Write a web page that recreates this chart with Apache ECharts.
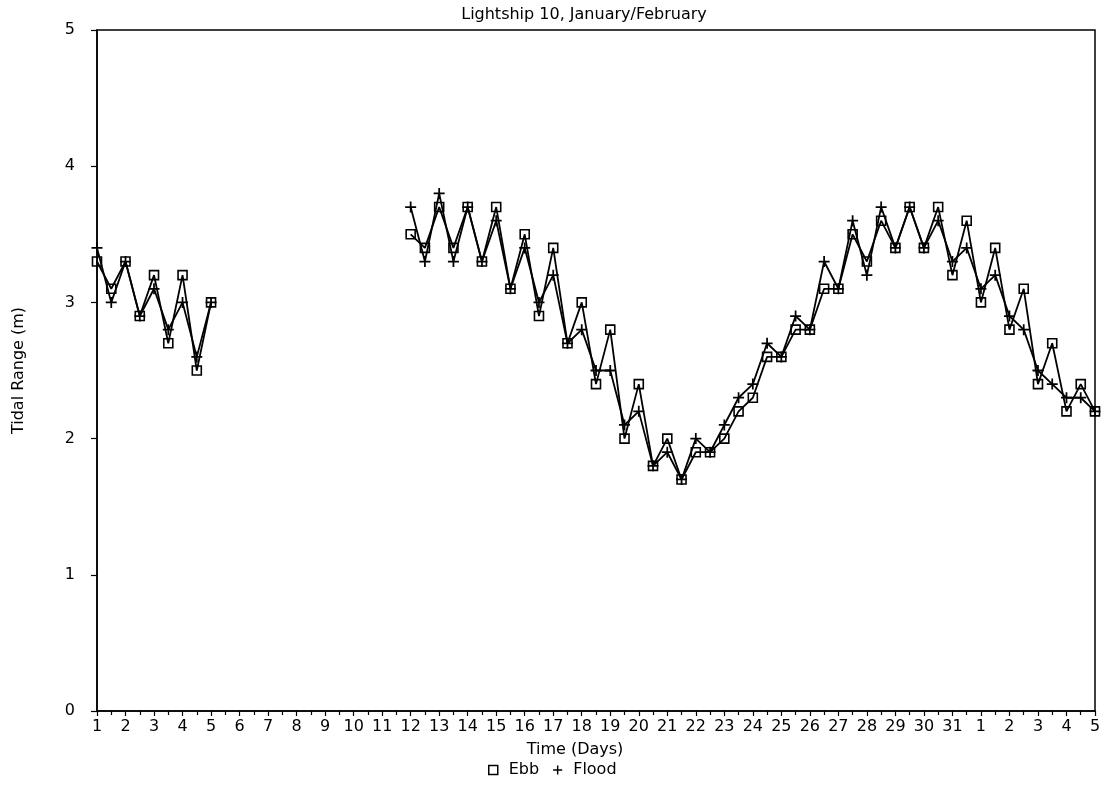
<!DOCTYPE html>
<html>
<head>
<meta charset="utf-8">
<script src="https://cdn.jsdelivr.net/npm/echarts@6/dist/echarts.min.js"></script>
<style>
  html, body { margin: 0; padding: 0; background: #fff; }
  #chart { width: 1108px; height: 785px; }
</style>
</head>
<body>
<div id="chart"></div>
<script>
// Day tick labels: January 1-31, then February 1-5
const dayLabels = ['1','2','3','4','5','6','7','8','9','10','11','12','13','14','15','16','17','18','19','20',
  '21','22','23','24','25','26','27','28','29','30','31','1','2','3','4','5'];

// Tidal range (m), one reading every half day
// First record: starts January 1
const ebbEarly   = [3.3, 3.1, 3.3, 2.9, 3.2, 2.7, 3.2, 2.5, 3.0];
const floodEarly = [3.4, 3.0, 3.3, 2.9, 3.1, 2.8, 3.0, 2.6, 3.0];
const earlyStartDay = 0;   // days after January 1

// Second record: starts January 12
const ebbLate = [3.5, 3.4, 3.7, 3.4, 3.7, 3.3, 3.7, 3.1, 3.5, 2.9, 3.4, 2.7, 3.0, 2.4, 2.8, 2.0, 2.4, 1.8, 2.0, 1.7,
  1.9, 1.9, 2.0, 2.2, 2.3, 2.6, 2.6, 2.8, 2.8, 3.1, 3.1, 3.5, 3.3, 3.6, 3.4, 3.7, 3.4, 3.7, 3.2, 3.6,
  3.0, 3.4, 2.8, 3.1, 2.4, 2.7, 2.2, 2.4, 2.2];
const floodLate = [3.7, 3.3, 3.8, 3.3, 3.7, 3.3, 3.6, 3.1, 3.4, 3.0, 3.2, 2.7, 2.8, 2.5, 2.5, 2.1, 2.2, 1.8, 1.9, 1.7,
  2.0, 1.9, 2.1, 2.3, 2.4, 2.7, 2.6, 2.9, 2.8, 3.3, 3.1, 3.6, 3.2, 3.7, 3.4, 3.7, 3.4, 3.6, 3.3, 3.4,
  3.1, 3.2, 2.9, 2.8, 2.5, 2.4, 2.3, 2.3, 2.2];
const lateStartDay = 11;   // days after January 1

const stepDays = 0.5;

// Build [day, value] pairs with a null break between the two records
function buildSeries(early, late) {
  const out = early.map((v, i) => [earlyStartDay + i * stepDays, v]);
  out.push([earlyStartDay + early.length * stepDays, null]);
  late.forEach((v, i) => out.push([lateStartDay + i * stepDays, v]));
  return out;
}

const FONT = 'DejaVu Sans';
const plusPath = 'path://M4.2,0H5.8V4.2H10V5.8H5.8V10H4.2V5.8H0V4.2H4.2Z';

const chart = echarts.init(document.getElementById('chart'), null, { renderer: 'canvas' });

chart.setOption({
  backgroundColor: '#fff',
  animation: false,
  title: {
    text: 'Lightship 10, January/February',
    left: 579,
    top: 2,
    textAlign: 'center',
    textStyle: { fontFamily: FONT, fontSize: 16, fontWeight: 'normal', color: '#000' }
  },
  legend: {
    bottom: 2,
    left: 483,
    itemGap: 14,
    itemWidth: 9,
    itemHeight: 9,
    textStyle: { fontFamily: FONT, fontSize: 16, color: '#000', padding: [0, 0, 0, 6] },
    data: [
      { name: 'Ebb', icon: 'rect', itemStyle: { color: '#fff', borderColor: '#000', borderWidth: 1.5 } },
      { name: 'Flood', icon: plusPath, itemStyle: { color: '#000', borderWidth: 0 } }
    ]
  },
  grid: {
    left: 97, right: 13, top: 30, bottom: 74,
    show: true, borderColor: '#000', borderWidth: 1.5, backgroundColor: 'transparent'
  },
  xAxis: {
    type: 'value',
    min: 0,
    max: 35,
    interval: 1,
    name: 'Time (Days)',
    nameLocation: 'middle',
    nameGap: 31,
    nameTextStyle: { fontFamily: FONT, fontSize: 16, color: '#000', padding: [0, 42, 0, 0] },
    axisLine: { show: true, lineStyle: { color: '#000', width: 1.5 } },
    axisTick: { show: true, inside: false, length: 5, lineStyle: { color: '#000', width: 1.2 } },
    minorTick: { show: true, splitNumber: 2, length: 4, lineStyle: { color: '#000', width: 1.2 } },
    splitLine: { show: false },
    minorSplitLine: { show: false },
    axisLabel: {
      fontFamily: FONT, fontSize: 16, color: '#000', margin: 8,
      formatter: v => dayLabels[Math.round(v)]
    }
  },
  yAxis: {
    type: 'value',
    min: 0,
    max: 5,
    interval: 1,
    name: 'Tidal Range (m)',
    nameLocation: 'middle',
    nameGap: 70,
    nameTextStyle: { fontFamily: FONT, fontSize: 16, color: '#000' },
    axisLine: { show: true, lineStyle: { color: '#000', width: 1.5 } },
    axisTick: { show: true, inside: false, length: 6, lineStyle: { color: '#000', width: 1.2 } },
    splitLine: { show: false },
    axisLabel: { fontFamily: FONT, fontSize: 16, color: '#000', margin: 22 }
  },
  series: [
    {
      name: 'Flood',
      type: 'line',
      data: buildSeries(floodEarly, floodLate),
      connectNulls: false,
      symbol: plusPath,
      symbolSize: 11,
      showAllSymbol: true,
      itemStyle: { color: '#000', borderWidth: 0 },
      lineStyle: { color: '#000', width: 1.8 },
      z: 2
    },
    {
      name: 'Ebb',
      type: 'line',
      data: buildSeries(ebbEarly, ebbLate),
      connectNulls: false,
      symbol: 'rect',
      symbolSize: 9,
      showAllSymbol: true,
      itemStyle: { color: 'rgba(255,255,255,0)', borderColor: '#000', borderWidth: 1.6 },
      lineStyle: { color: '#000', width: 1.8 },
      z: 3
    }
  ]
});
</script>
</body>
</html>
